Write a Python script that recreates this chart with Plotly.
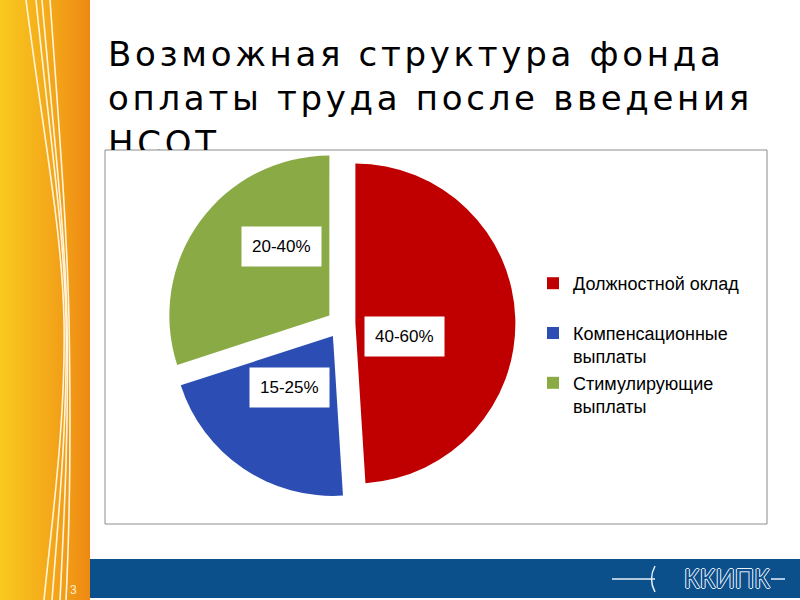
import base64
import plotly.graph_objects as go

# ---------------- data ----------------
categories = ["Должностной оклад", "Компенсационные выплаты", "Стимулирующие выплаты"]
legend_names = ["Должностной оклад<br>\u00a0", "Компенсационные<br>выплаты", "Стимулирующие<br>выплаты"]
shares = [49, 21, 30]
share_ranges = ["40-60%", "15-25%", "20-40%"]
slice_colors = ["#C00000", "#2C4EB4", "#8AAA45"]
title_lines = ["Возможная структура фонда", "оплаты труда после введения", "НСОТ"]

W, H = 800, 600


def px(x):
    return x / W


def py(y):
    return 1 - y / H


# ---------------- decorative left strip (svg image) ----------------
strip_svg = """<svg xmlns='http://www.w3.org/2000/svg' width='90' height='600' viewBox='0 0 90 600' preserveAspectRatio='none'>
<defs><linearGradient id='g' x1='0' y1='0' x2='1' y2='0'>
<stop offset='0' stop-color='#F8CA1E'/><stop offset='0.55' stop-color='#F4A91A'/><stop offset='1' stop-color='#EE8912'/>
</linearGradient></defs>
<rect width='90' height='600' fill='url(#g)'/>
<g fill='none' stroke='#FFF4DC' stroke-width='1.6'>
<path d='M26 0 C 44 140, 62 230, 64 320 C 66 420, 52 520, 44 600'/>
<path d='M36 0 C 50 140, 64 230, 66 320 C 68 420, 58 520, 52 600'/>
<path d='M42 0 C 54 140, 65 230, 67 320 C 69 430, 64 520, 60 600'/>
<path d='M50 0 C 60 140, 67 230, 69 320 C 71 430, 70 520, 66 600'/>
</g></svg>"""
strip_src = "data:image/svg+xml;base64," + base64.b64encode(strip_svg.encode("utf-8")).decode("ascii")

fig = go.Figure()

# ---------------- pie ----------------
cx, cy, R, pull = 341, 324, 160, 0.09
half = R * (1 + pull)
fig.add_trace(go.Pie(
    labels=legend_names,
    values=shares,
    sort=False,
    direction="clockwise",
    rotation=0,
    pull=[pull] * len(shares),
    marker=dict(colors=slice_colors, line=dict(width=0)),
    textinfo="none",
    hoverinfo="skip",
    domain=dict(x=[px(cx - half), px(cx + half)], y=[py(cy + half), py(cy - half)]),
    showlegend=True,
))

# ---------------- title (clipped at the chart frame) ----------------
title_text = "<br>".join(
    f"<span style='letter-spacing:3.7px'>{t}</span>" for t in title_lines
)
fig.add_trace(go.Scatter(
    x=[108], y=[102], mode="text", text=[title_text],
    textposition="middle right",
    textfont=dict(family="DejaVu Sans", size=34, color="#000000"),
    cliponaxis=True, hoverinfo="skip", showlegend=False,
))

# boxed value labels
label_xy = [(404, 336), (289, 388), (281, 247)]
annotations = []
for (lx, ly), t in zip(label_xy, share_ranges):
    annotations.append(dict(
        x=px(lx), y=py(ly), xref="paper", yref="paper", text=t, showarrow=False,
        font=dict(family="Liberation Sans", size=17, color="#000000"),
        bgcolor="#FFFFFF", borderpad=10, xanchor="center", yanchor="middle",
    ))

# page number
annotations.append(dict(
    x=px(73), y=py(590), xref="paper", yref="paper", text="3", showarrow=False,
    font=dict(family="Liberation Sans", size=12, color="#FFEFC8"),
    xanchor="center", yanchor="middle",
))
# logo text
annotations.append(dict(
    x=px(727), y=py(579), xref="paper", yref="paper", text="ККИПК", showarrow=False,
    font=dict(family="Liberation Sans", size=27, color="#0B4F8B",
              shadow="1px 0 0 #E8F0FA, -1px 0 0 #E8F0FA, 0 1px 0 #E8F0FA, 0 -1px 0 #E8F0FA"),
    xanchor="center", yanchor="middle",
))

shapes = [
    # chart frame
    dict(type="rect", xref="paper", yref="paper", x0=px(105), x1=px(767), y0=py(524), y1=py(150),
         line=dict(color="#8C8C8C", width=1), fillcolor="#FFFFFF", layer="below"),
    # bottom blue bar
    dict(type="rect", xref="paper", yref="paper", x0=px(90), x1=1, y0=py(598), y1=py(559),
         line=dict(width=0), fillcolor="#0B4F8B", layer="below"),
    # logo lines
    dict(type="line", xref="paper", yref="paper", x0=px(612), x1=px(655), y0=py(579), y1=py(579),
         line=dict(color="#E8F0FA", width=1.5), layer="above"),
    dict(type="path", xref="paper", yref="paper",
         path=f"M {px(655)},{py(566)} Q {px(648)},{py(579)} {px(655)},{py(592)}",
         line=dict(color="#E8F0FA", width=1.5), layer="above"),
    dict(type="line", xref="paper", yref="paper", x0=px(771), x1=px(785), y0=py(579), y1=py(579),
         line=dict(color="#E8F0FA", width=1.5), layer="above"),
]

fig.update_layout(
    width=W, height=H,
    margin=dict(l=0, r=0, t=0, b=0),
    paper_bgcolor="#FFFFFF",
    plot_bgcolor="rgba(0,0,0,0)",
    xaxis=dict(domain=[0, 1], range=[0, W], visible=False, fixedrange=True),
    yaxis=dict(domain=[py(150), 1], range=[150, 0], visible=False, fixedrange=True),
    legend=dict(
        x=px(533), y=py(265), xanchor="left", yanchor="top",
        font=dict(family="Liberation Sans", size=18, color="#000000"),
        valign="top", bgcolor="rgba(0,0,0,0)", borderwidth=0,
        itemclick=False, itemdoubleclick=False,
    ),
    images=[dict(source=strip_src, xref="paper", yref="paper", x=0, y=1,
                 sizex=px(90), sizey=1, sizing="stretch", layer="below",
                 xanchor="left", yanchor="top")],
    shapes=shapes,
    annotations=annotations,
    showlegend=True,
)

fig.write_html(
    "out.html",
    config={"displayModeBar": False},
    post_script="document.body.style.margin='0';document.body.style.padding='0';",
)
